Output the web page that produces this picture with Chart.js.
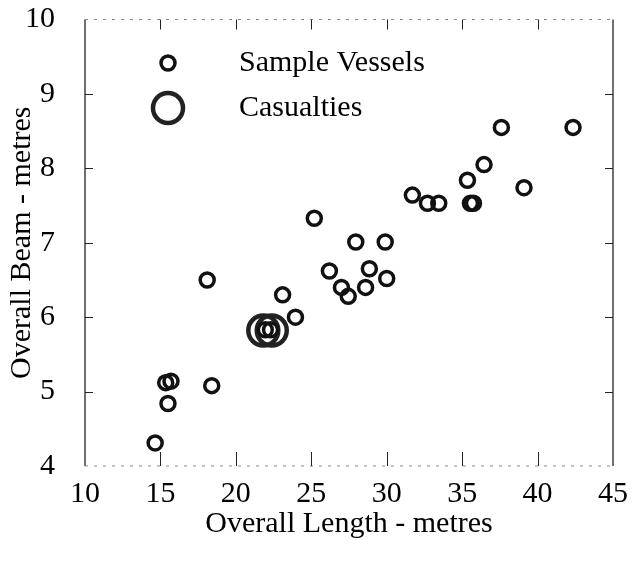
<!DOCTYPE html>
<html>
<head>
<meta charset="utf-8">
<script src="https://cdn.jsdelivr.net/npm/chart.js@4.4.1/dist/chart.umd.min.js"></script>
<style>
  html, body { margin: 0; padding: 0; background: #fff; }
  #wrap { width: 634px; height: 563px; }
</style>
</head>
<body>
<div id="wrap"><canvas id="beamChart"></canvas></div>
<script>
// overall length (m) and beam (m)
const vesselLength = [14.65, 15.35, 15.7, 15.5, 18.4, 18.1, 21.95, 22.3, 23.1, 23.95, 25.2, 26.2, 27.0, 27.45, 27.95, 28.6, 28.85, 29.9, 30.0, 31.7, 32.7, 33.45, 35.35, 35.55, 35.75, 36.45, 37.6, 39.1, 42.35];
const vesselBeam   = [4.31, 5.12, 5.14, 4.84, 5.08, 6.5, 5.83, 5.83, 6.3, 6.0, 7.33, 6.62, 6.4, 6.28, 7.01, 6.4, 6.65, 7.01, 6.52, 7.64, 7.53, 7.53, 7.84, 7.53, 7.53, 8.05, 8.55, 7.74, 8.55];

const casualtyLength = [21.82, 22.38];
const casualtyBeam   = [5.82, 5.82];

const xTicks = [10, 15, 20, 25, 30, 35, 40, 45];
const yTicks = [4, 5, 6, 7, 8, 9, 10];

const legendLabels = ['Sample Vessels', 'Casualties'];

const serif = "'Liberation Serif', 'Times New Roman', serif";

function toPoints(xs, ys) {
    return xs.map((x, i) => ({ x: x, y: ys[i] }));
}

// box round the plot with inward ticks, and the legend inside the plot
const framePlugin = {
    id: 'frame',
    afterDraw(chart) {
        const ctx = chart.ctx;
        const a = chart.chartArea;
        const xs = chart.scales.x;
        const ys = chart.scales.y;
        ctx.save();
        ctx.strokeStyle = '#111';
        ctx.lineWidth = 1.2;
        ctx.beginPath();
        ctx.moveTo(a.left, a.top); ctx.lineTo(a.left, a.bottom);
        ctx.moveTo(a.right, a.top); ctx.lineTo(a.right, a.bottom);
        ctx.stroke();

        ctx.strokeStyle = '#888';
        ctx.lineWidth = 1;
        ctx.setLineDash([3, 6]);
        ctx.beginPath();
        ctx.moveTo(a.left, a.top); ctx.lineTo(a.right, a.top);
        ctx.moveTo(a.left, a.bottom); ctx.lineTo(a.right, a.bottom);
        ctx.stroke();
        ctx.setLineDash([]);

        ctx.strokeStyle = '#222';
        ctx.lineWidth = 1;
        ctx.beginPath();
        xTicks.slice(1, -1).forEach(v => {
            const px = Math.round(xs.getPixelForValue(v)) + 0.5;
            ctx.moveTo(px, a.bottom); ctx.lineTo(px, a.bottom - 14);
            ctx.moveTo(px, a.top); ctx.lineTo(px, a.top + 10);
        });
        yTicks.slice(1, -1).forEach(v => {
            const py = Math.round(ys.getPixelForValue(v)) + 0.5;
            ctx.moveTo(a.left, py); ctx.lineTo(a.left + 8, py);
            ctx.moveTo(a.right, py); ctx.lineTo(a.right - 8, py);
        });
        ctx.stroke();

        // legend
        const sets = chart.data.datasets;
        const rows = [63, 108];
        ctx.font = '30px ' + serif;
        ctx.fillStyle = '#000';
        ctx.textBaseline = 'middle';
        sets.forEach((ds, i) => {
            ctx.beginPath();
            ctx.lineWidth = ds.borderWidth;
            ctx.strokeStyle = ds.borderColor;
            ctx.arc(168, rows[i], ds.pointRadius, 0, Math.PI * 2);
            ctx.stroke();
            ctx.fillText(legendLabels[i], 239, rows[i]);
        });
        ctx.restore();
    }
};

new Chart(document.getElementById('beamChart'), {
    type: 'scatter',
    data: {
        datasets: [{
            label: legendLabels[0],
            data: toPoints(vesselLength, vesselBeam),
            pointRadius: 7,
            pointHoverRadius: 7,
            borderWidth: 3.5,
            borderColor: '#111',
            backgroundColor: 'rgba(0,0,0,0)'
        }, {
            label: legendLabels[1],
            data: toPoints(casualtyLength, casualtyBeam),
            pointRadius: 15,
            pointHoverRadius: 15,
            borderWidth: 4.5,
            borderColor: '#222',
            backgroundColor: 'rgba(0,0,0,0)'
        }]
    },
    options: {
        responsive: true,
        maintainAspectRatio: false,
        animation: false,
        clip: false,
        layout: { padding: { top: 14, right: 21, left: 0, bottom: 0 } },
        plugins: {
            legend: { display: false },
            tooltip: { enabled: false }
        },
        scales: {
            x: {
                type: 'linear',
                min: 10,
                max: 45,
                afterBuildTicks: s => { s.ticks = xTicks.map(v => ({ value: v })); },
                afterFit: s => {
                    s.height = 97;
                    s.paddingLeft = 0;
                    s.paddingRight = 0;
                },
                grid: { display: false, drawTicks: false },
                border: { display: false },
                ticks: {
                    padding: 10,
                    color: '#000',
                    font: { family: serif, size: 30 }
                },
                title: {
                    display: true,
                    text: 'Overall Length - metres',
                    color: '#000',
                    font: { family: serif, size: 30 },
                    padding: { top: 0, bottom: 21 }
                }
            },
            y: {
                type: 'linear',
                min: 4,
                max: 10,
                afterBuildTicks: s => { s.ticks = yTicks.map(v => ({ value: v })); },
                afterFit: s => {
                    s.width = 85;
                    s.paddingTop = 0;
                    s.paddingBottom = 0;
                },
                grid: { display: false, drawTicks: false },
                border: { display: false },
                ticks: {
                    padding: 30,
                    color: '#000',
                    font: { family: serif, size: 30 }
                },
                title: {
                    display: true,
                    text: 'Overall Beam - metres',
                    color: '#000',
                    font: { family: serif, size: 30 },
                    padding: { top: 4, bottom: 0 }
                }
            }
        }
    },
    plugins: [framePlugin]
});
</script>
</body>
</html>
